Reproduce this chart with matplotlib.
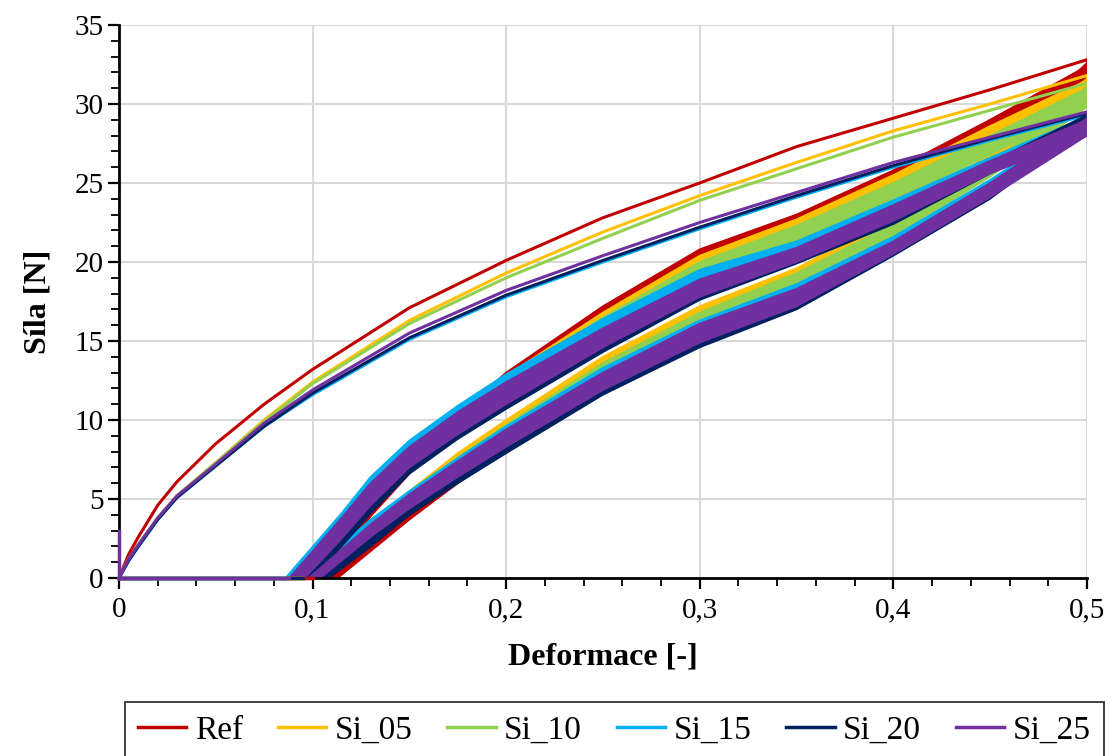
import matplotlib.pyplot as plt
from matplotlib.ticker import MultipleLocator, FuncFormatter

plt.rcParams['font.family'] = ['Liberation Serif', 'DejaVu Serif']

# deformace pro prvni zatezovaci krivku
VX = [0, 0.005, 0.01, 0.02, 0.03, 0.05, 0.075, 0.1, 0.15, 0.2, 0.25, 0.3, 0.35, 0.4, 0.45, 0.5]
# deformace pro pasy dalsich cyklu (pred nimi je vzdy bod dotyku s nulovou silou)
BX = [0.115, 0.13, 0.15, 0.175, 0.2, 0.25, 0.3, 0.35, 0.4, 0.45, 0.5]

nazvy = ["Ref", "Si_05", "Si_10", "Si_15", "Si_20", "Si_25"]
barvy = ["#C00000", "#FFC000", "#92D050", "#00B0F0", "#002060", "#7030A0"]

# prvni zatizeni [N]
ref_virgin = [0, 1.5, 2.6, 4.6, 6.1, 8.5, 11.0, 13.2, 17.1, 20.1, 22.8, 25.0, 27.3, 29.1, 30.9, 32.8]
si05_virgin = [0, 1.2, 2.1, 3.8, 5.2, 7.3, 10.0, 12.4, 16.3, 19.3, 21.9, 24.2, 26.3, 28.3, 30.0, 31.8]
si10_virgin = [0, 1.2, 2.1, 3.8, 5.2, 7.3, 9.9, 12.3, 16.1, 19.0, 21.5, 23.9, 25.9, 27.9, 29.6, 31.3]
si15_virgin = [0, 1.1, 2.0, 3.7, 5.1, 7.1, 9.6, 11.6, 15.1, 17.8, 20.0, 22.1, 24.1, 26.0, 27.7, 29.3]
si20_virgin = [0, 1.1, 2.0, 3.7, 5.1, 7.1, 9.6, 11.7, 15.2, 17.9, 20.1, 22.2, 24.2, 26.1, 27.8, 29.4]
si25_virgin = [0, 1.2, 2.1, 3.8, 5.2, 7.2, 9.8, 11.9, 15.5, 18.2, 20.4, 22.5, 24.4, 26.3, 27.9, 29.5]
si25_start = [3.0, 0.0]

# deformace, kde sila zacina / konci (zatizeni horni, dolni, odlehceni horni, dolni)
ref_x0 = [0.100, 0.106, 0.108, 0.113]
si05_x0 = [0.095, 0.099, 0.100, 0.104]
si10_x0 = [0.094, 0.100, 0.101, 0.105]
si15_x0 = [0.086, 0.090, 0.095, 0.100]
si20_x0 = [0.095, 0.100, 0.102, 0.108]
si25_x0 = [0.088, 0.096, 0.098, 0.104]

# opakovane zatizeni - horni a dolni okraj pasu [N]
ref_rel_hi = [2.0, 4.5, 7.2, 10.3, 13.0, 17.2, 20.8, 23.0, 25.8, 29.0, 32.4]
ref_rel_lo = [1.2, 3.9, 6.6, 9.6, 12.2, 16.3, 19.9, 22.1, 25.0, 28.2, 31.0]
si05_rel_hi = [3.0, 5.2, 7.7, 10.4, 12.8, 16.8, 20.4, 22.7, 25.5, 28.6, 31.5]
si05_rel_lo = [2.3, 4.5, 7.0, 9.6, 12.0, 16.0, 19.6, 21.9, 24.7, 27.8, 30.5]
si10_rel_hi = [3.1, 5.3, 7.7, 10.3, 12.6, 16.5, 20.0, 22.3, 25.0, 28.0, 31.0]
si10_rel_lo = [2.1, 4.3, 6.7, 9.2, 11.4, 15.3, 18.8, 21.0, 23.8, 26.8, 29.9]
si15_rel_hi = [4.1, 6.4, 8.7, 10.9, 12.9, 16.4, 19.5, 21.3, 23.9, 26.6, 29.2]
si15_rel_lo = [3.3, 5.6, 7.9, 10.1, 12.0, 15.4, 18.5, 20.4, 23.0, 25.8, 28.5]
si20_rel_hi = [2.9, 5.0, 7.4, 9.7, 11.7, 15.0, 18.2, 20.4, 23.2, 26.3, 29.3]
si20_rel_lo = [2.0, 4.1, 6.6, 8.8, 10.7, 14.3, 17.6, 19.9, 22.4, 25.6, 28.7]
si25_rel_hi = [3.8, 6.0, 8.3, 10.5, 12.4, 15.8, 18.9, 20.9, 23.6, 26.4, 29.0]
si25_rel_lo = [2.5, 4.6, 7.0, 9.1, 11.0, 14.6, 17.8, 20.0, 22.6, 25.6, 28.0]

# odlehceni - horni a dolni okraj pasu [N]
ref_unl_hi = [0.8, 2.6, 4.8, 7.3, 9.6, 13.6, 16.9, 19.4, 22.8, 26.8, 32.6]
ref_unl_lo = [0.2, 1.7, 3.7, 6.0, 8.1, 12.0, 15.3, 18.2, 21.8, 26.0, 30.8]
si05_unl_hi = [1.7, 3.4, 5.5, 7.9, 10.0, 14.0, 17.2, 19.6, 22.8, 26.8, 31.6]
si05_unl_lo = [1.1, 2.8, 4.9, 7.2, 9.3, 13.2, 16.4, 18.9, 22.2, 26.0, 30.4]
si10_unl_hi = [1.5, 3.2, 5.3, 7.6, 9.7, 13.6, 16.8, 19.3, 22.4, 26.2, 31.1]
si10_unl_lo = [0.9, 2.5, 4.6, 6.8, 8.9, 12.6, 15.8, 18.3, 21.6, 25.4, 29.8]
si15_unl_hi = [2.1, 3.7, 5.5, 7.6, 9.6, 13.3, 16.3, 18.6, 21.6, 25.2, 29.2]
si15_unl_lo = [1.5, 3.1, 4.9, 7.0, 9.0, 12.6, 15.6, 17.8, 20.9, 24.5, 28.4]
si20_unl_hi = [1.4, 3.0, 5.0, 7.1, 9.1, 12.8, 15.8, 18.0, 21.1, 24.8, 29.3]
si20_unl_lo = [0.6, 2.0, 4.0, 6.0, 7.9, 11.6, 14.6, 17.0, 20.4, 24.0, 28.6]
si25_unl_hi = [1.8, 3.4, 5.3, 7.4, 9.4, 13.0, 16.1, 18.3, 21.3, 25.0, 29.1]
si25_unl_lo = [1.1, 2.6, 4.4, 6.4, 8.3, 11.9, 14.9, 17.2, 20.5, 24.1, 28.0]

data = [
    (ref_virgin, ref_x0, ref_rel_hi, ref_rel_lo, ref_unl_hi, ref_unl_lo),
    (si05_virgin, si05_x0, si05_rel_hi, si05_rel_lo, si05_unl_hi, si05_unl_lo),
    (si10_virgin, si10_x0, si10_rel_hi, si10_rel_lo, si10_unl_hi, si10_unl_lo),
    (si15_virgin, si15_x0, si15_rel_hi, si15_rel_lo, si15_unl_hi, si15_unl_lo),
    (si20_virgin, si20_x0, si20_rel_hi, si20_rel_lo, si20_unl_hi, si20_unl_lo),
    (si25_virgin, si25_x0, si25_rel_hi, si25_rel_lo, si25_unl_hi, si25_unl_lo),
]

fig = plt.figure(figsize=(11.17, 7.56), dpi=100)
ax = fig.add_axes([0.1065, 0.2354, 0.8666, 0.7316])

for nazev, c, (virgin, x0, rh, rl, uh, ul) in zip(nazvy, barvy, data):
    # pas opakovanych cyklu: zatizeni a odlehceni
    for (xa, ya), (xb, yb) in [((x0[0], rh), (x0[1], rl)), ((x0[2], uh), (x0[3], ul))]:
        hx = [xa] + BX
        hy = [0] + ya
        lx = [xb] + BX
        ly = [0] + yb
        ax.fill(hx + lx[::-1], hy + ly[::-1], color=c, lw=0, zorder=2)
        ax.plot(hx, hy, color=c, lw=1.3, zorder=2)
        ax.plot(lx, ly, color=c, lw=1.3, zorder=2)
    # spojeni vrcholu prvniho zatizeni s odlehcenim
    ax.plot([0.5, 0.5], [virgin[-1], uh[-1]], color=c, lw=1.5, zorder=2)
    ax.plot([0, x0[0]], [0, 0], color=c, lw=2.5, zorder=6, clip_on=False)
    ax.plot(VX, virgin, color=c, lw=2.2, zorder=2, label=nazev)

ax.plot([0, 0], si25_start, color=barvy[5], lw=2.5, zorder=6, clip_on=False)

ax.set_xlim(0, 0.5)
ax.set_ylim(0, 35)
ax.xaxis.set_major_locator(MultipleLocator(0.1))
ax.xaxis.set_minor_locator(MultipleLocator(0.02))
ax.yaxis.set_major_locator(MultipleLocator(5))
ax.yaxis.set_minor_locator(MultipleLocator(1))
ax.xaxis.set_major_formatter(FuncFormatter(lambda v, p: "0" if abs(v) < 1e-9 else f"{v:.1f}".replace(".", ",")))
ax.grid(True, which="major", color="#d9d9d9", lw=1.5, zorder=0)
ax.set_axisbelow(True)

for s in ["top", "right"]:
    ax.spines[s].set_visible(False)
for s in ["left", "bottom"]:
    ax.spines[s].set_linewidth(2)
    ax.spines[s].set_zorder(5)

ax.tick_params(which="major", direction="out", length=8, width=1.6, labelsize=21)
ax.tick_params(which="minor", direction="out", length=6, width=1.3)
ax.tick_params(axis="x", which="major", pad=6)
ax.tick_params(axis="y", which="major", pad=3)

ax.set_xlabel("Deformace [-]", fontsize=23, fontweight="bold", labelpad=14)
ax.set_ylabel("Síla [N]", fontsize=23, fontweight="bold", labelpad=16)

leg = fig.legend(loc="upper center", bbox_to_anchor=(0.55, 0.0714), ncol=6, fontsize=24,
                 frameon=True, fancybox=False, edgecolor="black", handlelength=1.45,
                 handletextpad=0.25, columnspacing=1.05, borderpad=0.4, borderaxespad=0)
leg.get_frame().set_linewidth(1.3)
for h in leg.get_lines():
    h.set_linewidth(2.5)

fig.savefig("out.png", dpi=100)
